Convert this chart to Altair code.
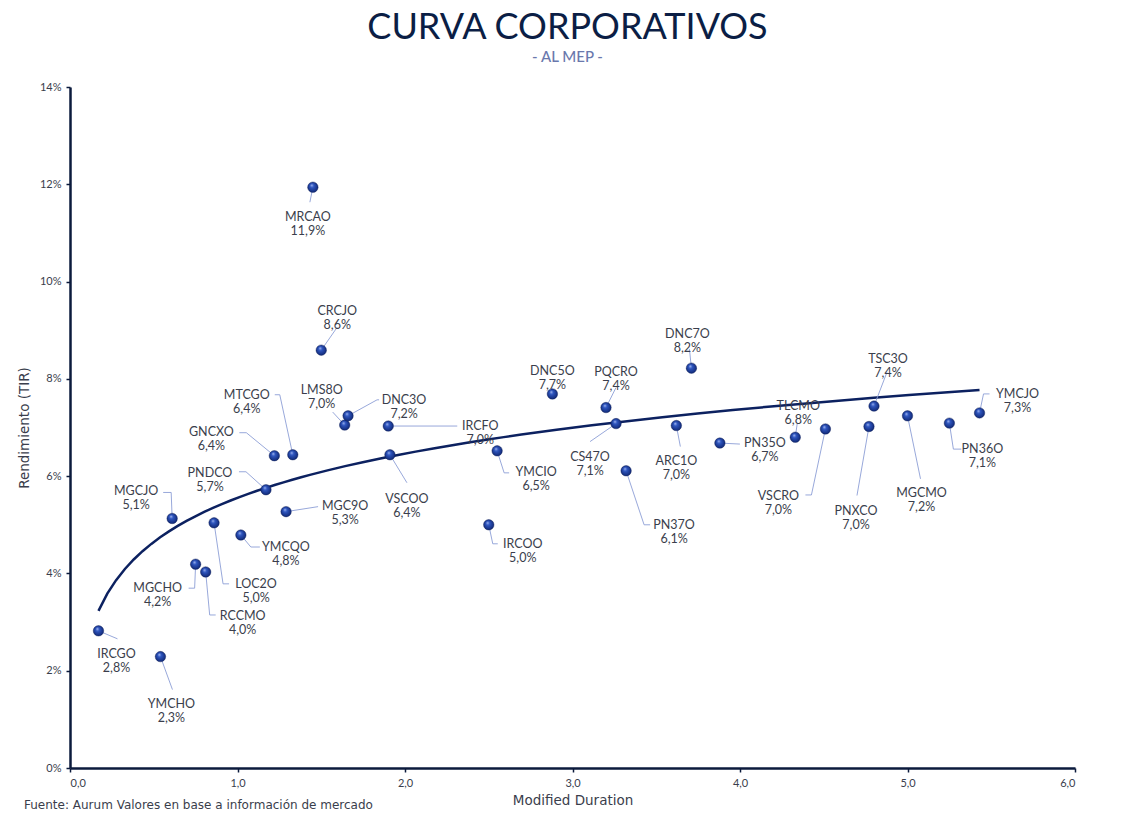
import altair as alt
import pandas as pd

# ---------------- data ----------------
names = ["IRCGO", "YMCHO", "MGCJO", "MGCHO", "RCCMO", "LOC2O", "YMCQO", "PNDCO",
         "GNCXO", "MTCGO", "MGC9O", "MRCAO", "CRCJO", "LMS8O", "DNC3O", "IRCFO",
         "VSCOO", "YMCIO", "IRCOO", "DNC5O", "PQCRO", "CS47O", "PN37O", "DNC7O",
         "ARC1O", "PN35O", "TLCMO", "VSCRO", "PNXCO", "TSC3O", "MGCMO", "PN36O",
         "YMCJO"]
durations = [0.17, 0.54, 0.61, 0.75, 0.81, 0.86, 1.02, 1.17,
             1.22, 1.33, 1.29, 1.45, 1.50, 1.64, 1.66, 1.90,
             1.91, 2.55, 2.50, 2.88, 3.20, 3.26, 3.32, 3.71,
             3.62, 3.88, 4.33, 4.51, 4.77, 4.80, 5.00, 5.25,
             5.43]
yields = [2.82, 2.29, 5.13, 4.19, 4.03, 5.04, 4.79, 5.72,
          6.42, 6.44, 5.27, 11.94, 8.59, 7.05, 7.24, 7.03,
          6.44, 6.52, 5.00, 7.69, 7.41, 7.08, 6.11, 8.22,
          7.04, 6.68, 6.80, 6.97, 7.02, 7.44, 7.24, 7.09,
          7.30]

# ---------------- label layout (pixel offsets from each point) ----------------
label_dx = [18, 11, -36, -38, 37, 42, 45, -56,
            -63, -46, 59, -5, 16, -23, 56, 92,
            17, 39, 34, 0, 10, -26, 48, -4,
            0, 45, 3, -47, -13, 14, 14, 33,
            38]
label_dy = [23, 47, -27, 24, 44, 61, 12, -17,
            -24, -60, -6, 30, -39, -35, -16, 0,
            44, 21, 19, -23, -36, 33, 54, -34,
            35, 0, -31, 67, 84, -47, 77, 26,
            -19]
# leader polylines: offsets (px) of the vertices after the point itself
leaders = [[(19, 8)], [(12, 33)], [(-1, -26), (-9, -26)], [(-1, 24), (-7, 24)],
           [(4, 43), (10, 43)], [(9, 61), (15, 61)], [(10, 12), (19, 12)], [(-20, -18), (-27, -18)],
           [(-28, -23), (-35, -23)], [(-13, -60), (-18, -60)], [(32, -5)], [(-3, 15)],
           [(16, -23)], [(-12, -13)], [(29, -16), (31, -16)], [(69, 0)],
           [(17, 28)], [(7, 22), (12, 22)], [(4, 19), (9, 19)], [],
           [(10, -20)], [(-26, 18)], [(18, 54), (24, 54)], [(-2, -19)],
           [(4, 21)], [(20, 1)], [(2, -14)], [(-14, 66), (-20, 66)],
           [(-12, 69)], [(13, -34)], [(13, 63)], [(4, 26), (12, 26)],
           [(4, -19), (10, -19)]]

W, H = 1005, 681
XMAX, YMAX = 6, 14
PX_X = W / XMAX
PX_Y = H / YMAX

df = pd.DataFrame({"name": names, "x": durations, "y": yields})
df["lx"] = [x + dx / PX_X for x, dx in zip(durations, label_dx)]
df["ly"] = [y - dy / PX_Y for y, dy in zip(yields, label_dy)]

rows = []
for i, (n, x, y) in enumerate(zip(names, durations, yields)):
    if not leaders[i]:
        continue
    rows.append({"id": n, "o": 0, "x": x, "y": y})
    for k, (dx, dy) in enumerate(leaders[i]):
        rows.append({"id": n, "o": k + 1, "x": x + dx / PX_X, "y": y - dy / PX_Y})
lead_df = pd.DataFrame(rows)

FONT = "Lato"
WIDE = "DejaVu Sans"
NAVY = "#0c2160"
TXT = "#3a3e4c"

xscale = alt.Scale(domain=[0, XMAX], nice=False, zero=True)
yscale = alt.Scale(domain=[0, YMAX], nice=False, zero=True)

xaxis = alt.Axis(title="Modified Duration", values=[0, 1, 2, 3, 4, 5, 6],
                 labelExpr="replace(format(datum.value, '.1f'), '.', ',')",
                 grid=False, titlePadding=5)
yaxis = alt.Axis(title="Rendimiento (TIR)", values=[0, 2, 4, 6, 8, 10, 12, 14],
                 labelExpr="format(datum.value, 'd') + '%'",
                 grid=False, titlePadding=8)

base = alt.Chart(df)

trend = base.transform_regression("x", "y", method="log").mark_line(
    color=NAVY, strokeWidth=2.5
).encode(x=alt.X("x:Q", scale=xscale, axis=xaxis), y=alt.Y("y:Q", scale=yscale, axis=yaxis))

lead = alt.Chart(lead_df).mark_line(color="#8c9ed6", strokeWidth=0.9).encode(
    x=alt.X("x:Q", scale=xscale), y=alt.Y("y:Q", scale=yscale),
    detail="id:N", order="o:Q"
)

grad = alt.RadialGradient(
    gradient="radial",
    stops=[alt.GradientStop(offset=0, color="#a9bdf2"),
           alt.GradientStop(offset=0.3, color="#2f56c0"),
           alt.GradientStop(offset=1, color="#0a1f66")],
    x1=0.38, y1=0.3, r1=0, x2=0.5, y2=0.5, r2=0.6,
)
pts = base.mark_circle(size=110, opacity=1, color=grad, stroke="#0a1a50", strokeWidth=0.4).encode(
    x=alt.X("x:Q", scale=xscale), y=alt.Y("y:Q", scale=yscale)
)

labels = base.transform_calculate(
    lab="datum.name + '\\n' + replace(format(datum.y, '.1f'), '.', ',') + '%'"
).mark_text(
    font=FONT, fontSize=12.5, color=TXT, lineBreak="\n", lineHeight=14,
    align="center", baseline="middle"
).encode(x=alt.X("lx:Q", scale=xscale), y=alt.Y("ly:Q", scale=yscale), text="lab:N")

footer = alt.Chart(pd.DataFrame({"t": ["Fuente: Aurum Valores en base a información de mercado"]})).mark_text(
    font=WIDE, fontSize=12, color=TXT, align="left", baseline="alphabetic"
).encode(x=alt.value(-46), y=alt.value(722), text="t:N")

chart = alt.layer(trend, lead, pts, labels, footer).properties(
    width=W, height=H,
    autosize=alt.AutoSizeParams(type="none"),
    padding={"left": 62, "top": 79, "right": 53, "bottom": 48},
    title=alt.TitleParams(
        text="CURVA CORPORATIVOS", subtitle="- AL MEP -", anchor="middle", frame="group",
        font=FONT, fontSize=36, fontWeight="normal", color="#0b1e45",
        subtitleFont=FONT, subtitleFontSize=15, subtitleFontWeight=500, subtitleColor="#6a78ad",
        subtitlePadding=3, offset=15, dx=-5
    ),
).configure_view(stroke=None).configure_axis(
    domainColor="#0b1a3c", domainWidth=2.5, tickColor="#0b1a3c", tickWidth=1.5, tickSize=4,
    labelFont=FONT, labelFontSize=11, labelColor=TXT, labelPadding=5,
    titleFont=WIDE, titleFontSize=13.5, titleFontWeight="normal", titleColor=TXT
)

chart.save("out.html", embed_options={"renderer": "svg", "actions": False})
